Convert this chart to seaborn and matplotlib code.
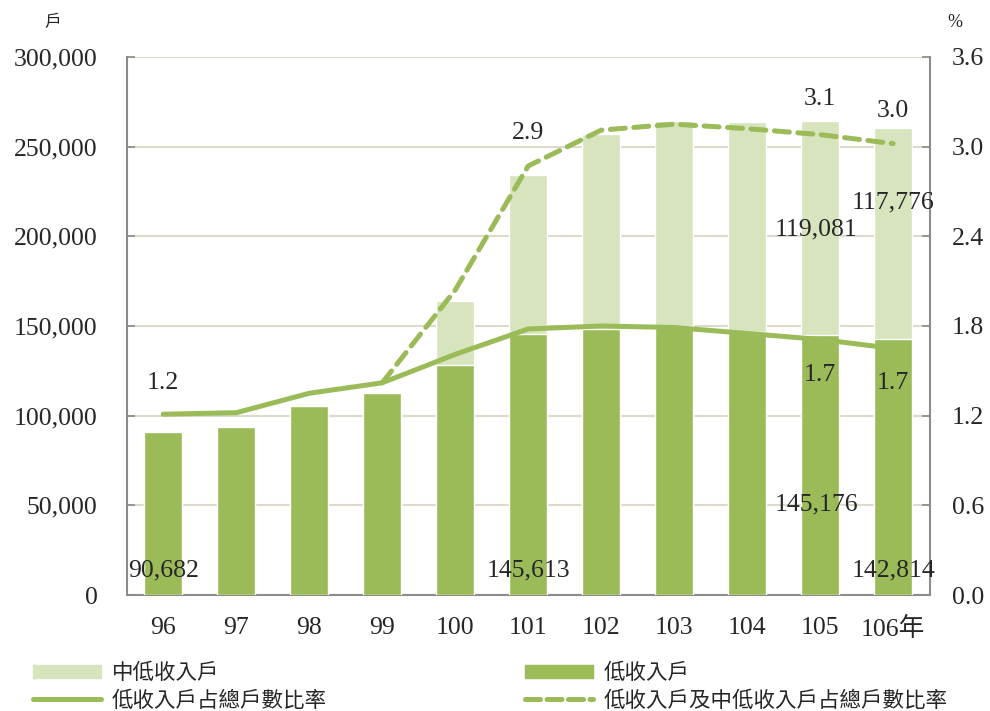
import numpy as np
import pandas as pd
import matplotlib.pyplot as plt
import seaborn as sns
from matplotlib.lines import Line2D
from matplotlib.patches import Patch

sns.set_theme(style="white")
plt.rcParams['font.family'] = ['Liberation Serif', 'Noto Sans CJK TC']

years = ["96", "97", "98", "99", "100", "101", "102", "103", "104", "105", "106年"]
low_income = [90682, 93500, 105500, 112400, 128200, 145613, 148500, 150000, 146400, 145176, 142814]
mid_low_income = [0, 0, 0, 0, 35800, 88800, 108500, 114100, 117300, 119081, 117776]
low_ratio = [1.21, 1.22, 1.35, 1.42, 1.61, 1.78, 1.80, 1.79, 1.75, 1.71, 1.65]
total_ratio = [np.nan, np.nan, np.nan, 1.42, 2.04, 2.87, 3.11, 3.15, 3.12, 3.08, 3.02]

dark = "#9BBB59"
light = "#D7E4BD"
grid_c = "#DDDACB"
spine_c = "#8C8C8C"

df = pd.DataFrame({
    "year": years,
    "low": low_income,
    "total": np.array(low_income) + np.array(mid_low_income),
})
pos = np.arange(len(years))

fig = plt.figure(figsize=(9.9, 7.11), dpi=100)
ax = fig.add_axes([0.128, 0.163, 0.811, 0.757])

# stacked bars: total (light) behind, low-income (dark) in front
sns.barplot(data=df, x="year", y="total", color=light, saturation=1, width=0.52, ax=ax, zorder=2)
sns.barplot(data=df, x="year", y="low", color=dark, saturation=1, width=0.52, ax=ax, zorder=3)

ax.set_ylim(0, 300000)
ax.set_xlim(-0.5, len(years) - 0.5)
ax.set_yticks(np.arange(0, 300001, 50000))
ax.set_yticklabels([f"{v:,}" for v in range(0, 300001, 50000)])
ax.yaxis.grid(True, color=grid_c, lw=1.5, zorder=0)
ax.set_axisbelow(True)
ax.set_xlabel("")
ax.set_ylabel("")
ax.set_xticks(pos)
ax.set_xticklabels(years)
ax.set_xticks(np.arange(-0.5, len(years), 1), minor=True)
ax.tick_params(axis="x", which="major", length=0, pad=16, labelsize=18.5)
ax.tick_params(axis="x", which="minor", length=6, direction="out", color=spine_c)
ax.tick_params(axis="y", length=6, direction="in", color=spine_c, labelsize=18.5, pad=21)
for s in ["left", "bottom", "right"]:
    ax.spines[s].set_color(spine_c)
    ax.spines[s].set_linewidth(1.5)
ax.spines["top"].set_visible(False)

ax2 = ax.twinx()
sns.lineplot(x=pos, y=low_ratio, color=dark, lw=3.6, ax=ax2, zorder=4)
sns.lineplot(x=pos, y=total_ratio, color=dark, lw=3.6, ax=ax2, zorder=4)
ax2.lines[1].set_dashes([3, 1.7])
ax2.lines[1].set_dash_capstyle("round")
ax2.set_ylim(0, 3.6)
ax2.set_yticks(np.arange(0, 3.61, 0.6))
ax2.set_yticklabels([f"{v:.1f}" for v in np.arange(0, 3.61, 0.6)])
ax2.tick_params(axis="y", length=6, direction="in", color=spine_c, labelsize=18.5, pad=16)
for s in ["left", "right", "top", "bottom"]:
    ax2.spines[s].set_visible(False)
ax2.grid(False)

# unit labels
fig.text(0.053, 0.968, "戶", fontsize=12, ha="center", va="center", family=["Noto Sans CJK TC"])
fig.text(0.965, 0.968, "%", fontsize=13, ha="center", va="center")

# value annotations
fs = 18.5
ax.text(0, 14000, "90,682", ha="center", va="center", fontsize=fs, zorder=5)
ax.text(5, 14000, "145,613", ha="center", va="center", fontsize=fs, zorder=5)
ax.text(10, 14000, "142,814", ha="center", va="center", fontsize=fs, zorder=5)
ax.text(8.95, 50800, "145,176", ha="center", va="center", fontsize=fs, zorder=5)
ax.text(8.95, 204000, "119,081", ha="center", va="center", fontsize=fs, zorder=5)
ax.text(10, 218600, "117,776", ha="center", va="center", fontsize=fs, zorder=5)
ax2.text(0, 1.42, "1.2", ha="center", va="center", fontsize=fs)
ax2.text(5, 3.09, "2.9", ha="center", va="center", fontsize=fs)
ax2.text(9, 3.32, "3.1", ha="center", va="center", fontsize=fs)
ax2.text(10, 3.24, "3.0", ha="center", va="center", fontsize=fs)
ax2.text(9, 1.47, "1.7", ha="center", va="center", fontsize=fs)
ax2.text(10, 1.42, "1.7", ha="center", va="center", fontsize=fs)

handles = [
    Patch(color=light),
    Line2D([], [], color=dark, lw=3.6, solid_capstyle="round"),
    Patch(color=dark),
    Line2D([], [], color=dark, lw=3.6, dashes=[3, 1.3], dash_capstyle="round"),
]
labels = ["中低收入戶", "低收入戶占總戶數比率", "低收入戶", "低收入戶及中低收入戶占總戶數比率"]
fig.legend(handles, labels, ncol=2, loc="upper left", bbox_to_anchor=(0.0333, 0.069),
           frameon=False, prop={"family": ["Noto Sans CJK TC"], "size": 15.5},
           handlelength=3.16, handleheight=0.6, columnspacing=9.2, labelspacing=0.26,
           handletextpad=0.5, borderpad=0, borderaxespad=0)

fig.savefig("out.png", dpi=100)
